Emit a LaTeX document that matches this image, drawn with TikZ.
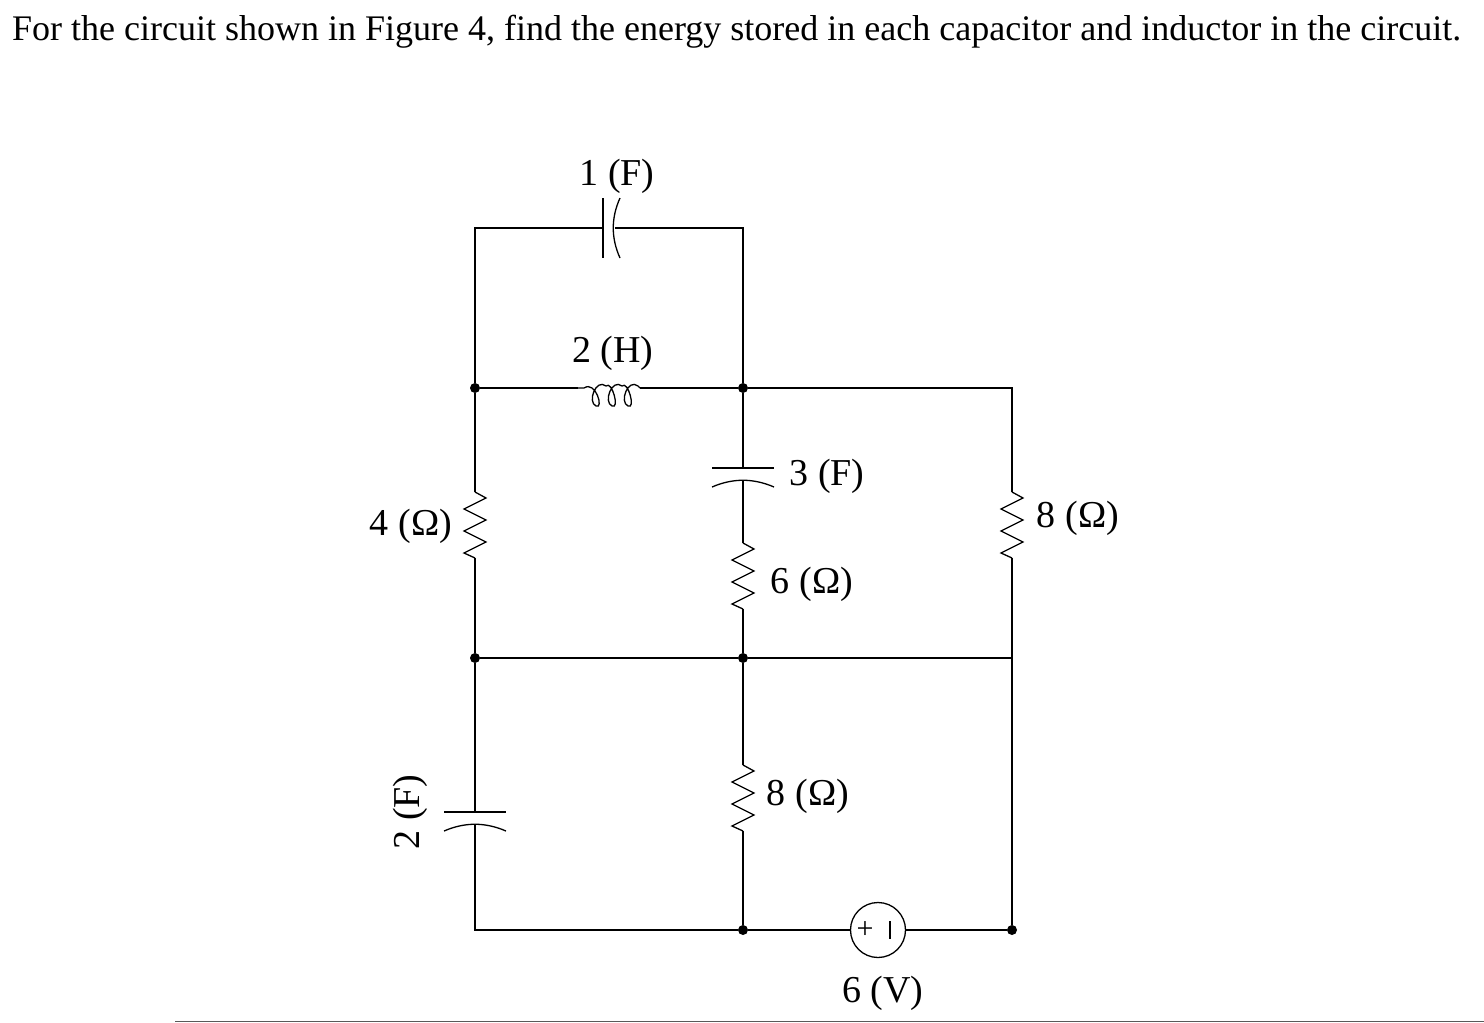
\documentclass[tikz,border=0pt]{standalone}
\usepackage{fontspec}
\setmainfont{Liberation Serif}
\begin{document}
\begin{tikzpicture}[x=1pt,y=-1pt,
		wire/.style = {draw, line width=1.3pt},
		dot/.style = {circle, fill, inner sep=0pt, minimum size=10pt},
		lbl/.style = {font=\fontsize{38}{44}\selectfont, inner sep=0pt},
		resistor/.pic = {\draw[line width=1.3pt] (0,0) -- (11,6) -- (-11,17) -- (11,28) -- (-11,39) -- (11,50) -- (-11,61) -- (0,66);},
		capacitor/.pic = {\draw[line width=1.3pt] (-31,0) -- (31,0);
			\draw[line width=1.3pt] (-31,19) .. controls (-10,10) and (10,10) .. (31,19);}
	]
	\useasboundingbox (0,0) rectangle (1484,1023);

	\node[anchor=west, font=\fontsize{36}{42}\selectfont, inner sep=0pt] (title) at (12,32) {For the circuit shown in Figure 4, find the energy stored in each capacitor and inductor in the circuit.};

	% junctions
	\coordinate (tl) at (475,228);
	\coordinate (tr) at (743,228);
	\node[dot] (a) at (475,388) {};
	\node[dot] (b) at (743,388) {};
	\coordinate (c) at (1012,388);
	\node[dot] (d) at (475,658) {};
	\node[dot] (e) at (743,658) {};
	\coordinate (f) at (1012,658);
	\coordinate (g) at (475,930);
	\node[dot] (h) at (743,930) {};
	\node[dot] (i) at (1012,930) {};

	% component terminals
	\coordinate (c1a) at (603,228);  \coordinate (c1b) at (615,228);
	\coordinate (l1a) at (578,388);  \coordinate (l1b) at (640,388);
	\coordinate (c3a) at (743,468);  \coordinate (c3b) at (743,480);
	\coordinate (r6a) at (743,543);  \coordinate (r6b) at (743,609);
	\coordinate (r4a) at (475,492);  \coordinate (r4b) at (475,558);
	\coordinate (r8a) at (1012,492); \coordinate (r8b) at (1012,558);
	\coordinate (c2a) at (475,812);  \coordinate (c2b) at (475,824);
	\coordinate (r9a) at (743,765);  \coordinate (r9b) at (743,831);
	\node[draw, circle, line width=1.3pt, minimum size=55pt, inner sep=0pt] (v) at (878,930) {};

	% wires
	\path[wire] (a) -- (tl) -- (c1a);
	\path[wire] (c1b) -- (tr) -- (b);
	\path[wire] (a) -- (l1a);
	\path[wire] (l1b) -- (b) -- (c) -- (r8a);
	\path[wire] (r8b) -- (f) -- (i);
	\path[wire] (b) -- (c3a);
	\path[wire] (c3b) -- (r6a);
	\path[wire] (r6b) -- (e);
	\path[wire] (a) -- (r4a);
	\path[wire] (r4b) -- (d) -- (c2a);
	\path[wire] (c2b) -- (g) -- (h);
	\path[wire] (d) -- (e) -- (f);
	\path[wire] (e) -- (r9a);
	\path[wire] (r9b) -- (h) -- (v);
	\path[wire] (v) -- (i);

	% components
	\draw[line width=1.3pt] (603,198) -- (603,258);
	\draw[line width=1.3pt] (620,198) .. controls (611,218) and (611,238) .. (620,258);
	\draw[line width=1.3pt] (l1a) -- (584,388)
		\foreach \k in {0,...,2} { .. controls (596+16*\k,380) and (604+16*\k,410) .. (596+16*\k,406) .. controls (587+16*\k,402) and (596+16*\k,378) .. (606+16*\k,386) }
		-- (l1b);
	\pic at (c3a) {capacitor};
	\pic at (c2a) {capacitor};
	\pic at (r6a) {resistor};
	\pic at (r4a) {resistor};
	\pic at (r8a) {resistor};
	\pic at (r9a) {resistor};
	\node[font=\fontsize{30}{34}\selectfont, inner sep=0pt] (vp) at (865,930) {+};
	\draw[line width=1.3pt] (890,921) -- (890,939);

	% labels
	\node[lbl] (l1) at (617,176) {1 (F)};
	\node[lbl] (l2) at (613,353) {2 (H)};
	\node[lbl] (l3) at (827,476) {3 (F)};
	\node[lbl] (l4) at (411,526) {4 (Ω)};
	\node[lbl] (l5) at (1078,518) {8 (Ω)};
	\node[lbl] (l6) at (812,584) {6 (Ω)};
	\node[lbl] (l7) at (808,796) {8 (Ω)};
	\node[lbl, rotate=90] (l8) at (410,812) {2 (F)};
	\node[lbl] (l9) at (883,993) {6 (V)};
	\draw[line width=1pt, gray!70!black] (175,1021) -- (1484,1021);
\end{tikzpicture}
\end{document}
